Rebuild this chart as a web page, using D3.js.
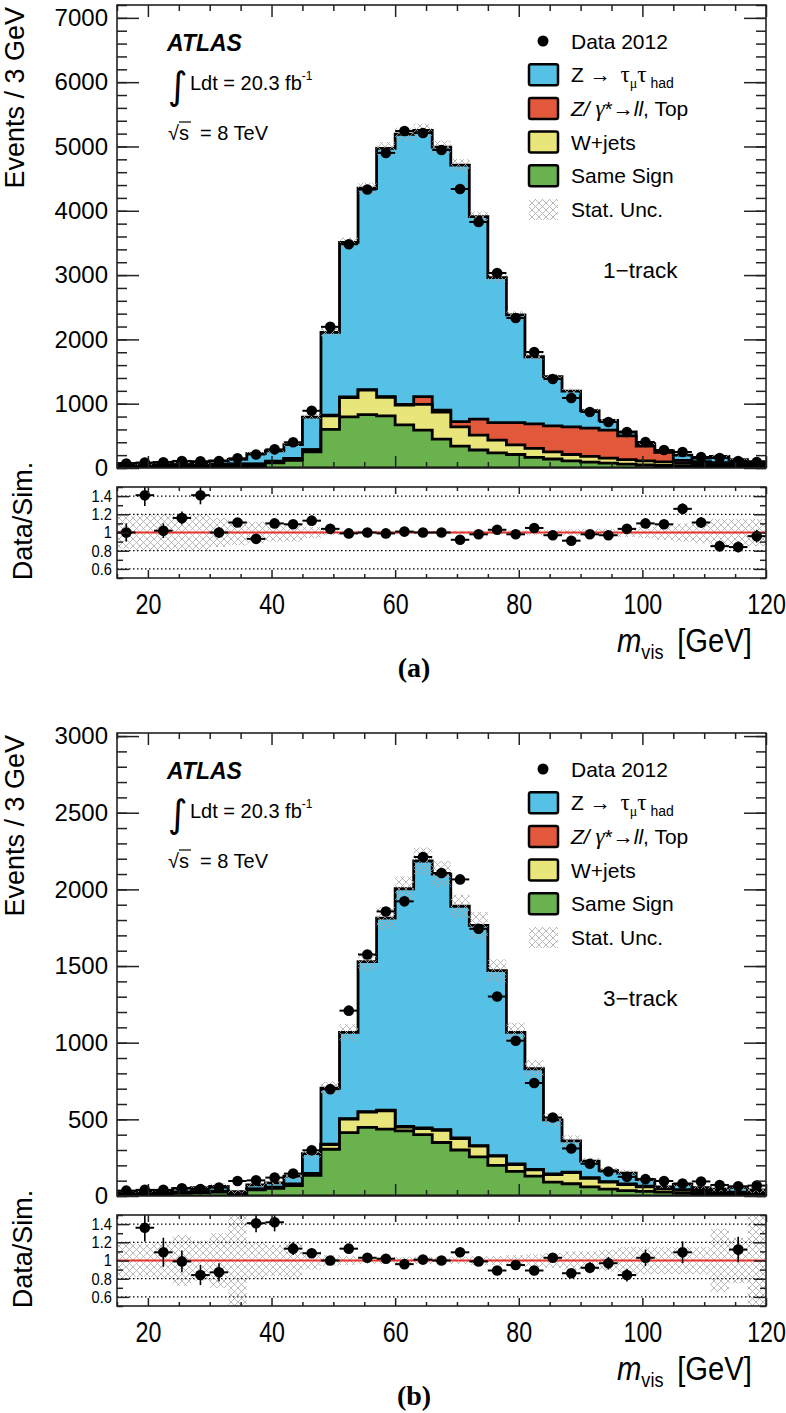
<!DOCTYPE html>
<html>
<head>
<meta charset="utf-8">
<script src="https://cdn.jsdelivr.net/npm/d3@7"></script>
<style>
  body { margin: 0; background: #fff; }
  text { font-family: "Liberation Sans", Arial, sans-serif; fill: #000; }
  .axis .domain { display: none; }
  .axis line { stroke: #222; stroke-width: 1.5; }
</style>
</head>
<body>
<svg id="chart" width="786" height="1413"></svg>
<script>
// m_vis bins, 3 GeV wide
var binLow = [15,18,21,24,27,30,33,36,39,42,45,48,51,54,57,60,63,66,69,72,75,78,81,84,87,90,93,96,99,102,105,108,111,114,117];
var binWidth = 3;
var xMajor = [20,40,60,80,100,120];
var xMinor = [15,25,30,35,45,50,55,65,70,75,85,90,95,105,110,115];

// ---- (a) 1-track ----
var dataA      = [70,85,90,110,105,110,150,210,290,400,890,2195,3480,4330,4900,5240,5210,4945,4339,3826,3033,2333,1804,1384,1089,871,715,560,404,280,249,171,156,109,93];
var zttA       = [25,15,38,43,18,50,70,160,160,215,505,1290,2405,3130,3860,4200,4140,4090,3990,3150,2255,1675,1045,765,555,270,150,60,40,25,80,55,95,60,37];
var zllA       = [5,5,5,5,5,5,5,5,5,5,5,10,10,10,10,10,120,30,80,250,270,345,380,405,430,440,435,370,230,150,40,30,25,20,15];
var wjetsA     = [10,10,10,12,12,15,15,15,20,25,30,210,300,380,290,310,400,420,300,230,200,150,140,110,100,90,80,70,60,55,45,40,35,30,25];
var sameSignA  = [30,30,35,35,40,40,45,45,80,120,250,600,795,830,810,670,590,450,340,280,235,210,165,140,110,90,75,60,50,40,35,30,25,20,20];
var ratioA     = [1.0,1.41,1.02,1.16,1.41,1.0,1.11,0.93,1.10,1.09,1.13,1.04,0.99,1.0,0.99,1.01,1.0,1.0,0.92,0.98,1.03,0.98,1.05,0.97,0.91,0.98,0.97,1.04,1.10,1.09,1.26,1.11,0.85,0.84,0.96];
var ratioErrA  = [0.10,0.12,0.08,0.07,0.10,0.06,0.05,0.04,0.035,0.03,0.02,0.01,0.01,0.01,0.01,0.01,0.01,0.01,0.01,0.01,0.015,0.02,0.02,0.025,0.03,0.03,0.035,0.04,0.045,0.05,0.06,0.06,0.06,0.06,0.07];
var statUncA   = [0.18,0.2,0.2,0.2,0.2,0.16,0.14,0.12,0.1,0.1,0.06,0.03,0.02,0.02,0.02,0.02,0.02,0.02,0.02,0.02,0.02,0.025,0.03,0.03,0.035,0.04,0.04,0.05,0.06,0.08,0.1,0.12,0.15,0.15,0.15];
var yTicksA    = [0,1000,2000,3000,4000,5000,6000,7000];

// ---- (b) 3-track ----
var dataB      = [35,40,40,50,45,55,98,102,120,146,298,697,1209,1575,1856,1922,2211,2107,2065,1743,1301,1013,737,512,310,210,160,125,110,98,82,95,72,63,68];
var zttB       = [5,8,13,23,25,31,6,25,27,50,128,365,562,978,1252,1550,1741,1667,1511,1436,1206,858,656,353,204,109,71,70,43,9,34,19,15,31,17];
var zllB       = [2,2,2,2,2,2,2,2,2,3,3,4,4,4,4,4,4,4,4,4,4,4,4,4,4,4,4,4,4,4,3,3,3,3,3];
var wjetsB     = [3,4,4,5,5,5,5,5,6,8,10,30,87,100,120,25,40,80,75,70,60,45,40,50,72,55,45,40,30,22,18,15,12,10,10];
var sameSignB  = [12,15,18,20,22,25,15,40,50,68,135,305,414,447,436,425,400,349,300,255,200,160,130,90,80,60,45,35,30,25,20,18,15,12,10];
var ratioB     = [null,1.36,1.09,0.99,0.84,0.87,null,1.41,1.42,1.13,1.08,1.0,1.13,1.03,1.02,0.96,1.01,1.0,1.09,0.99,0.89,0.95,0.89,1.03,0.86,0.92,0.97,0.84,1.03,null,1.09,null,null,1.12,null];
var ratioErrB  = [0,0.15,0.16,0.12,0.11,0.1,0,0.1,0.1,0.07,0.05,0.03,0.025,0.02,0.02,0.02,0.02,0.02,0.02,0.02,0.025,0.03,0.03,0.04,0.05,0.06,0.07,0.07,0.09,0,0.12,0,0,0.14,0];
var statUncB   = [0.2,0.18,0.2,0.28,0.22,0.3,0.5,0.2,0.17,0.2,0.1,0.06,0.05,0.04,0.04,0.04,0.04,0.04,0.04,0.05,0.05,0.06,0.07,0.08,0.1,0.1,0.12,0.15,0.15,0.15,0.15,0.15,0.35,0.25,0.5];
var yTicksB    = [0,500,1000,1500,2000,2500,3000];

var ratioTicks = [0.6,0.8,1,1.2,1.4];
var ratioMinor = [0.5,0.7,0.9,1.1,1.3,1.5];

var colors = { ztt: "#56c1e6", zll: "#e2583b", wjets: "#e8e57b", sameSign: "#6ab24e" };
var keys = ["sameSign", "wjets", "zll", "ztt"];
var narrow = "scale(0.8,1)";   // condensed look of the original labels

var svg = d3.select("#chart");
var defs = svg.append("defs");
var pat = defs.append("pattern").attr("id", "hatch")
    .attr("patternUnits", "userSpaceOnUse").attr("width", 7).attr("height", 7);
pat.append("path").attr("d", "M0,0L7,7M7,0L0,7M-1,6L1,8M6,-1L8,1")
    .attr("stroke", "#a8a8a8").attr("stroke-width", 0.8).attr("fill", "none");

var left = 117, right = 766;
var x = d3.scaleLinear().domain([15, 120]).range([left, right]);

function drawPanel(p) {
  var top = p.top, mainBot = top + 463, rTop = mainBot + 19, rBot = rTop + 91;
  var y = d3.scaleLinear().domain([0, p.yMax]).range([mainBot, top]);
  var yr = d3.scaleLinear().domain([0.5, 1.5]).range([rBot, rTop]);

  var table = binLow.map(function(lo, i) {
    return { lo: lo, sameSign: p.sameSign[i], wjets: p.wjets[i], zll: p.zll[i], ztt: p.ztt[i] };
  });
  var series = d3.stack().keys(keys)(table);
  var total = series[series.length - 1].map(function(d) { return d[1]; });

  var clipId = "clip" + p.name, rclipId = "rclip" + p.name;
  defs.append("clipPath").attr("id", clipId).append("rect")
      .attr("x", left).attr("y", top).attr("width", right - left).attr("height", mainBot - top);
  defs.append("clipPath").attr("id", rclipId).append("rect")
      .attr("x", left).attr("y", rTop).attr("width", right - left).attr("height", rBot - rTop);

  var line = d3.line().x(function(d) { return x(d[0]); }).y(function(d) { return y(d[1]); });
  function stepPts(vals) {
    var pts = [[binLow[0], 0]];
    vals.forEach(function(v, i) { pts.push([binLow[i], v]); pts.push([binLow[i] + binWidth, v]); });
    pts.push([binLow[binLow.length - 1] + binWidth, 0]);
    return pts;
  }

  var g = svg.append("g").attr("clip-path", "url(#" + clipId + ")");
  // stack, drawn from top layer down like THStack
  series.slice().reverse().forEach(function(s) {
    g.append("path")
      .attr("d", line(stepPts(s.map(function(d) { return d[1]; }))) + "Z")
      .attr("fill", colors[s.key]).attr("stroke", "#000").attr("stroke-width", 2.8)
      .attr("stroke-linejoin", "miter");
  });
  // stat. unc. band
  g.selectAll(".unc").data(table).enter().append("rect")
    .attr("x", function(d) { return x(d.lo); })
    .attr("width", x(18) - x(15))
    .attr("y", function(d, i) { return y(total[i] * (1 + p.statUnc[i])); })
    .attr("height", function(d, i) { return y(total[i] * (1 - p.statUnc[i])) - y(total[i] * (1 + p.statUnc[i])); })
    .attr("fill", "url(#hatch)");
  // data
  var dg = svg.append("g");
  dg.selectAll(".dh").data(p.data).enter().append("line")
    .attr("x1", function(d, i) { return x(binLow[i]); })
    .attr("x2", function(d, i) { return x(binLow[i] + binWidth); })
    .attr("y1", function(d) { return y(d); }).attr("y2", function(d) { return y(d); })
    .attr("stroke", "#000").attr("stroke-width", 2);
  dg.selectAll(".dp").data(p.data).enter().append("circle")
    .attr("cx", function(d, i) { return x(binLow[i] + binWidth / 2); })
    .attr("cy", function(d) { return y(d); })
    .attr("r", 5.3).attr("fill", "#000");

  // main axes
  function styleAxis(sel) { sel.selectAll(".domain").remove(); return sel; }
  var fmt = d3.format("d");
  svg.append("g").attr("class", "axis").attr("transform", "translate(" + left + ",0)")
    .call(d3.axisLeft(y).tickValues(p.yTicks).tickSize(-22).tickPadding(9).tickFormat(fmt))
    .call(styleAxis)
    .selectAll("text").attr("font-size", 24).style("font-family", "'Liberation Sans', Arial, sans-serif");
  svg.append("g").attr("class", "axis").attr("transform", "translate(" + left + ",0)")
    .call(d3.axisLeft(y).tickValues(p.yMinor).tickSize(-10).tickFormat("")).call(styleAxis);
  svg.append("g").attr("class", "axis").attr("transform", "translate(" + right + ",0)")
    .call(d3.axisRight(y).tickValues(p.yTicks).tickSize(-22).tickFormat("")).call(styleAxis);
  svg.append("g").attr("class", "axis").attr("transform", "translate(" + right + ",0)")
    .call(d3.axisRight(y).tickValues(p.yMinor).tickSize(-10).tickFormat("")).call(styleAxis);
  [[top, d3.axisTop], [mainBot, d3.axisBottom]].forEach(function(a) {
    svg.append("g").attr("class", "axis").attr("transform", "translate(0," + a[0] + ")")
      .call(a[1](x).tickValues(xMajor).tickSize(-12).tickFormat("")).call(styleAxis);
    svg.append("g").attr("class", "axis").attr("transform", "translate(0," + a[0] + ")")
      .call(a[1](x).tickValues(xMinor).tickSize(-6).tickFormat("")).call(styleAxis);
  });
  svg.append("rect").attr("x", left).attr("y", top).attr("width", right - left).attr("height", mainBot - top)
    .attr("fill", "none").attr("stroke", "#222").attr("stroke-width", 1.6);

  // ---- ratio panel ----
  var rg = svg.append("g").attr("clip-path", "url(#" + rclipId + ")");
  rg.selectAll(".runc").data(table).enter().append("rect")
    .attr("x", function(d) { return x(d.lo); })
    .attr("width", x(18) - x(15))
    .attr("y", function(d, i) { return yr(1 + p.statUnc[i]); })
    .attr("height", function(d, i) { return yr(1 - p.statUnc[i]) - yr(1 + p.statUnc[i]); })
    .attr("fill", "url(#hatch)");
  rg.selectAll(".grid").data([0.6, 0.8, 1.2, 1.4]).enter().append("line")
    .attr("x1", left).attr("x2", right)
    .attr("y1", function(d) { return yr(d); }).attr("y2", function(d) { return yr(d); })
    .attr("stroke", "#000").attr("stroke-width", 1.2).attr("stroke-dasharray", "1.5,2.5");
  rg.append("line").attr("x1", left).attr("x2", right).attr("y1", yr(1)).attr("y2", yr(1))
    .attr("stroke", "#e8332b").attr("stroke-width", 2);

  var pts = p.ratio.map(function(r, i) { return { r: r, e: p.ratioErr[i], lo: binLow[i] }; })
    .filter(function(d) { return d.r !== null; });
  rg.selectAll(".rh").data(pts).enter().append("line")
    .attr("x1", function(d) { return x(d.lo); }).attr("x2", function(d) { return x(d.lo + binWidth); })
    .attr("y1", function(d) { return yr(d.r); }).attr("y2", function(d) { return yr(d.r); })
    .attr("stroke", "#000").attr("stroke-width", 2);
  rg.selectAll(".rv").data(pts).enter().append("line")
    .attr("x1", function(d) { return x(d.lo + binWidth / 2); }).attr("x2", function(d) { return x(d.lo + binWidth / 2); })
    .attr("y1", function(d) { return yr(d.r - d.e); }).attr("y2", function(d) { return yr(d.r + d.e); })
    .attr("stroke", "#000").attr("stroke-width", 1.6);
  rg.selectAll(".rp").data(pts).enter().append("circle")
    .attr("cx", function(d) { return x(d.lo + binWidth / 2); })
    .attr("cy", function(d) { return yr(d.r); })
    .attr("r", 5.3).attr("fill", "#000");

  svg.append("g").attr("class", "axis").attr("transform", "translate(" + left + ",0)")
    .call(d3.axisLeft(yr).tickValues(ratioTicks).tickSize(-12).tickPadding(6).tickFormat(d3.format("~g")))
    .call(styleAxis)
    .selectAll("text").attr("font-size", 17).attr("transform", "scale(0.86,1)")
    .style("font-family", "'Liberation Sans', Arial, sans-serif");
  svg.append("g").attr("class", "axis").attr("transform", "translate(" + left + ",0)")
    .call(d3.axisLeft(yr).tickValues(ratioMinor).tickSize(-6).tickFormat("")).call(styleAxis);
  svg.append("g").attr("class", "axis").attr("transform", "translate(" + right + ",0)")
    .call(d3.axisRight(yr).tickValues(ratioTicks).tickSize(-12).tickFormat("")).call(styleAxis);
  svg.append("g").attr("class", "axis").attr("transform", "translate(" + right + ",0)")
    .call(d3.axisRight(yr).tickValues(ratioMinor).tickSize(-6).tickFormat("")).call(styleAxis);
  svg.append("g").attr("class", "axis").attr("transform", "translate(0," + rTop + ")")
    .call(d3.axisTop(x).tickValues(xMajor).tickSize(-7).tickFormat("")).call(styleAxis);
  svg.append("g").attr("class", "axis").attr("transform", "translate(0," + rTop + ")")
    .call(d3.axisTop(x).tickValues(xMinor).tickSize(-4).tickFormat("")).call(styleAxis);
  svg.append("g").attr("class", "axis").attr("transform", "translate(0," + rBot + ")")
    .call(d3.axisBottom(x).tickValues(xMajor).tickSize(-8).tickPadding(15).tickFormat(d3.format("d")))
    .call(styleAxis)
    .selectAll("text").attr("font-size", 29).attr("transform", narrow)
    .style("font-family", "'Liberation Sans', Arial, sans-serif");
  svg.append("g").attr("class", "axis").attr("transform", "translate(0," + rBot + ")")
    .call(d3.axisBottom(x).tickValues(xMinor).tickSize(-4).tickFormat("")).call(styleAxis);
  svg.append("rect").attr("x", left).attr("y", rTop).attr("width", right - left).attr("height", rBot - rTop)
    .attr("fill", "none").attr("stroke", "#222").attr("stroke-width", 1.6);

  // axis titles
  svg.append("text").attr("transform", "translate(24," + (top + 2) + ") rotate(-90)")
    .attr("text-anchor", "end").attr("font-size", 27).text("Events / 3 GeV");
  svg.append("text").attr("transform", "translate(32," + (rTop + 34) + ") rotate(-90)")
    .attr("text-anchor", "middle").attr("font-size", 27).text("Data/Sim.");
  var xt = svg.append("g").attr("transform", "translate(617," + (rBot + 74) + ") " + "scale(0.86,1)")
    .append("text").attr("font-size", 34);
  xt.append("tspan").attr("font-style", "italic").text("m");
  xt.append("tspan").attr("font-size", 21).attr("dy", 7).text("vis");
  xt.append("tspan").attr("dy", -7).attr("dx", 16).text("[GeV]");
  svg.append("text").attr("x", 414).attr("y", rBot + 99).attr("text-anchor", "middle")
    .attr("font-size", 28).attr("font-weight", "bold")
    .style("font-family", "'Liberation Serif', 'Times New Roman', serif").text(p.label);

  // ATLAS text block
  svg.append("text").attr("x", 167).attr("y", top + 46).attr("font-size", 23)
    .attr("font-weight", "bold").attr("font-style", "italic").text("ATLAS");
  svg.append("text").attr("x", 168).attr("y", top + 94).attr("font-size", 38)
    .style("font-family", "'DejaVu Sans', sans-serif").text("\u222B");
  var lum = svg.append("text").attr("x", 190).attr("y", top + 85).attr("font-size", 20);
  lum.append("tspan").text("Ldt = 20.3 fb");
  lum.append("tspan").attr("font-size", 12).attr("dy", -10).text("-1");
  svg.append("text").attr("x", 168).attr("y", top + 135).attr("font-size", 20).text("\u221As");
  svg.append("line").attr("x1", 179).attr("x2", 191).attr("y1", top + 117).attr("y2", top + 117)
    .attr("stroke", "#000").attr("stroke-width", 1.2);
  svg.append("text").attr("x", 200).attr("y", top + 135).attr("font-size", 20).text("= 8 TeV");

  // legend
  var ly = function(i) { return top + 36 + i * 33.7; };
  svg.append("circle").attr("cx", 543).attr("cy", ly(0)).attr("r", 5.5).attr("fill", "#000");
  svg.append("text").attr("x", 571).attr("y", ly(0)).attr("dy", "0.36em").attr("font-size", 21).text("Data 2012");
  ["ztt", "zll", "wjets", "sameSign"].forEach(function(k, j) {
    svg.append("rect").attr("x", 529).attr("y", ly(j + 1) - 10.5).attr("width", 29).attr("height", 21)
      .attr("rx", 2).attr("fill", colors[k]).attr("stroke", "#000").attr("stroke-width", 2.5);
  });
  svg.append("rect").attr("x", 529).attr("y", ly(5) - 10.5).attr("width", 29).attr("height", 21)
    .attr("fill", "url(#hatch)");
  var serif = "'Liberation Serif', 'Times New Roman', serif";
  var t1 = svg.append("text").attr("x", 571).attr("y", ly(1)).attr("dy", "0.36em").attr("font-size", 21);
  t1.append("tspan").text("Z \u2192 ");
  t1.append("tspan").attr("dx", 4).style("font-family", serif).attr("font-size", 23).text("\u03C4");
  t1.append("tspan").style("font-family", serif).attr("font-size", 14).attr("dy", 6).text("\u03BC");
  t1.append("tspan").style("font-family", serif).attr("font-size", 23).attr("dy", -6).text("\u03C4");
  t1.append("tspan").attr("font-size", 14).attr("dy", 6).attr("dx", 4).text("had");
  var t2 = svg.append("text").attr("x", 571).attr("y", ly(2)).attr("dy", "0.36em").attr("font-size", 21);
  t2.append("tspan").attr("font-style", "italic").text("Z/ ");
  t2.append("tspan").attr("font-style", "italic").style("font-family", serif).attr("font-size", 23).text("\u03B3");
  t2.append("tspan").text("*\u2192");
  t2.append("tspan").attr("font-style", "italic").text("ll");
  t2.append("tspan").text(", Top");
  svg.append("text").attr("x", 571).attr("y", ly(3)).attr("dy", "0.36em").attr("font-size", 21).text("W+jets");
  svg.append("text").attr("x", 571).attr("y", ly(4)).attr("dy", "0.36em").attr("font-size", 21).text("Same Sign");
  svg.append("text").attr("x", 571).attr("y", ly(5)).attr("dy", "0.36em").attr("font-size", 21).text("Stat. Unc.");
  svg.append("text").attr("x", 603).attr("y", top + 265).attr("dy", "0.36em").attr("font-size", 22.5).text(p.track);
}

drawPanel({ name: "a", top: 5, yMax: 7200, yTicks: yTicksA, yMinor: d3.range(0, 7201, 200),
  data: dataA, ztt: zttA, zll: zllA, wjets: wjetsA, sameSign: sameSignA,
  ratio: ratioA, ratioErr: ratioErrA, statUnc: statUncA, label: "(a)", track: "1\u2212track" });
drawPanel({ name: "b", top: 733, yMax: 3020, yTicks: yTicksB, yMinor: d3.range(0, 3001, 100),
  data: dataB, ztt: zttB, zll: zllB, wjets: wjetsB, sameSign: sameSignB,
  ratio: ratioB, ratioErr: ratioErrB, statUnc: statUncB, label: "(b)", track: "3\u2212track" });
</script>
</body>
</html>
